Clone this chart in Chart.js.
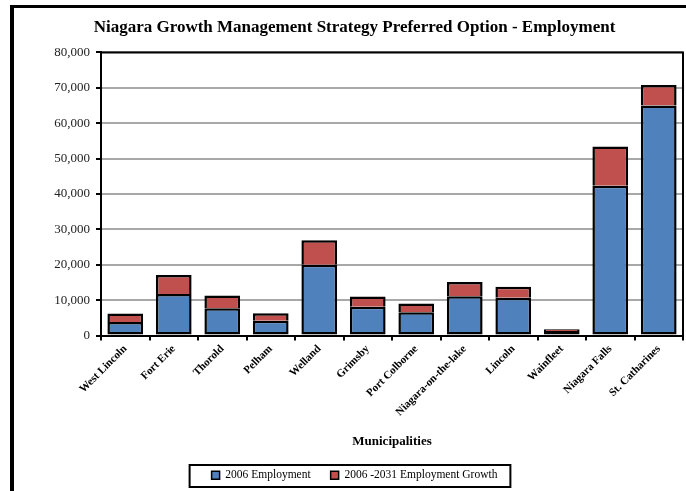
<!DOCTYPE html>
<html>
<head>
<meta charset="utf-8">
<script src="https://cdn.jsdelivr.net/npm/chart.js@4/dist/chart.umd.min.js"></script>
<style>
html,body{margin:0;padding:0;background:#fff;}
#wrap{position:relative;width:686px;height:491px;}
</style>
</head>
<body>
<div id="wrap"><canvas id="c" width="686" height="491"></canvas></div>
<script>
const categories = ["West Lincoln","Fort Erie","Thorold","Pelham","Welland","Grimsby","Port Colborne","Niagara-on-the-lake","Lincoln","Wainfleet","Niagara Falls","St. Catharines"];
const employment2006 = [3800, 11700, 7700, 4200, 20000, 8100, 6600, 11100, 10700, 1300, 42300, 65000];
const growth2006to2031 = [2400, 5400, 3600, 2100, 6900, 2900, 2450, 4000, 3100, 500, 11100, 5800];
const seriesNames = ["2006 Employment", "2006 -2031 Employment Growth"];
const yTicks = [0, 10000, 20000, 30000, 40000, 50000, 60000, 70000, 80000];

const SERIF = '"Liberation Serif", "Times New Roman", serif';

const framePlugin = {
  id: 'frame',
  beforeDraw(chart) {
    const ctx = chart.ctx;
    ctx.save();
    ctx.fillStyle = '#fff';
    ctx.fillRect(0, 0, chart.width, chart.height);
    ctx.fillStyle = '#000';
    ctx.fillRect(10, 5, 4, chart.height - 5);
    ctx.fillRect(10, 5, chart.width - 10, 3);
    ctx.restore();
  },
  afterDatasetsDraw(chart) {
    const a = chart.chartArea;
    const ctx = chart.ctx;
    ctx.save();
    ctx.strokeStyle = '#000';
    ctx.lineWidth = 2;
    ctx.beginPath();
    ctx.moveTo(a.left, a.top);
    ctx.lineTo(a.right, a.top);
    ctx.lineTo(a.right, a.bottom);
    ctx.stroke();
    ctx.restore();
  },
  afterDraw(chart) {
    const lg = chart.legend;
    if (!lg || !lg.legendHitBoxes || !lg.legendHitBoxes.length) return;
    const hb = lg.legendHitBoxes;
    const first = hb[0], last = hb[hb.length - 1];
    const x0 = first.left - 22;
    const x1 = last.left + last.width + 13;
    const y0 = 465;
    const y1 = 487;
    const ctx = chart.ctx;
    ctx.save();
    ctx.strokeStyle = '#000';
    ctx.lineWidth = 2;
    ctx.strokeRect(x0, y0, x1 - x0, y1 - y0);
    ctx.restore();
  }
};

new Chart(document.getElementById('c'), {
  type: 'bar',
  data: {
    labels: categories,
    datasets: [
      { label: seriesNames[0], data: employment2006, backgroundColor: '#4f81bd', borderColor: '#000', borderWidth: 2.5, borderSkipped: false },
      { label: seriesNames[1], data: growth2006to2031, backgroundColor: '#c0504d', borderColor: '#000', borderWidth: 2.5, borderSkipped: 'bottom' }
    ]
  },
  options: {
    responsive: false,
    animation: false,
    devicePixelRatio: 1,
    layout: { padding: { left: 26, right: 3, top: 0, bottom: 0 } },
    datasets: { bar: { categoryPercentage: 0.8, barPercentage: 0.92 } },
    plugins: {
      title: {
        display: true,
        text: 'Niagara Growth Management Strategy Preferred Option - Employment',
        color: '#000',
        font: { family: SERIF, size: 17, weight: 'bold' },
        padding: { top: 17, bottom: 15 }
      },
      legend: {
        display: true,
        position: 'bottom',
        labels: {
          color: '#000',
          font: { family: SERIF, size: 11.5 },
          boxWidth: 8,
          boxHeight: 8,
          padding: 20,
          generateLabels(chart) {
            return chart.data.datasets.map((ds, i) => ({
              text: ds.label,
              fillStyle: ds.backgroundColor,
              strokeStyle: '#000',
              lineWidth: 1.5,
              datasetIndex: i,
              hidden: false,
              fontColor: '#000'
            }));
          }
        }
      },
      tooltip: { enabled: false }
    },
    scales: {
      x: {
        stacked: true,
        afterFit(scale) { scale.height = 114; },
        grid: { display: true, drawOnChartArea: false, offset: true, tickLength: 5, tickColor: '#000', lineWidth: 2 },
        border: { display: true, color: '#000', width: 2 },
        ticks: {
          color: '#000',
          font: { family: SERIF, size: 11, weight: 'bold' },
          maxRotation: 45,
          minRotation: 45,
          autoSkip: false,
          padding: 2
        },
        title: {
          display: true,
          text: 'Municipalities',
          color: '#000',
          font: { family: SERIF, size: 13, weight: 'bold' },
          padding: { top: 4, bottom: 0 }
        }
      },
      y: {
        stacked: true,
        min: 0,
        max: 80000,
        afterFit(scale) { scale.width = 75; },
        afterBuildTicks(scale) { scale.ticks = yTicks.map(v => ({ value: v })); },
        grid: { color: '#a8a8a8', lineWidth: 2, tickLength: 5, tickColor: '#000' },
        border: { display: true, color: '#000', width: 2 },
        ticks: {
          color: '#222',
          font: { family: SERIF, size: 13 },
          padding: 6,
          callback: v => Number(v).toLocaleString('en-US')
        }
      }
    }
  },
  plugins: [framePlugin]
});
</script>
</body>
</html>
